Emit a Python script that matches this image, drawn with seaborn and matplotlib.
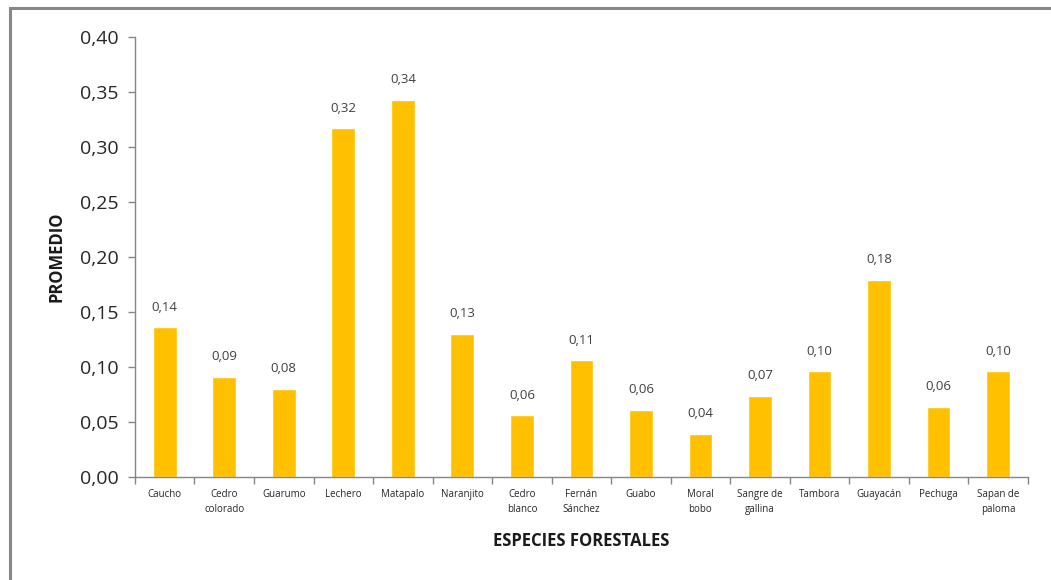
import matplotlib
matplotlib.use("Agg")
import matplotlib.pyplot as plt
from matplotlib.patches import Rectangle
from matplotlib.ticker import FixedLocator, FuncFormatter
import seaborn as sns
import pandas as pd

especies = ["Caucho", "Cedro colorado", "Guarumo", "Lechero", "Matapalo",
            "Naranjito", "Cedro blanco", "Fernán Sánchez", "Guabo", "Moral bobo",
            "Sangre de gallina", "Tambora", "Guayacán", "Pechuga", "Sapan de paloma"]
etiquetas = ["Caucho", "Cedro\ncolorado", "Guarumo", "Lechero", "Matapalo",
             "Naranjito", "Cedro\nblanco", "Fernán\nSánchez", "Guabo", "Moral\nbobo",
             "Sangre de\ngallina", "Tambora", "Guayacán", "Pechuga", "Sapan de\npaloma"]
promedio = [0.136, 0.091, 0.080, 0.317, 0.343, 0.130, 0.056, 0.106, 0.061,
            0.039, 0.074, 0.096, 0.179, 0.064, 0.096]
yticks = [0.00, 0.05, 0.10, 0.15, 0.20, 0.25, 0.30, 0.35, 0.40]

df = pd.DataFrame({"especie": especies, "promedio": promedio})

sns.set_style("white")
plt.rcParams["font.family"] = ["Open Sans", "DejaVu Sans"]

fig = plt.figure(figsize=(10.51, 5.80), dpi=100)
ax = fig.add_axes([0.1284, 0.1776, 0.9780 - 0.1284, 0.936 - 0.1776])

sns.barplot(data=df, x="especie", y="promedio", color="#FFC000",
            saturation=1, width=0.4, ax=ax)
ax.set_xlim(-0.5, len(especies) - 0.5)
ax.set_ylim(0, 0.40)

# value labels with decimal comma
ax.bar_label(ax.containers[0],
             labels=[f"{v:.2f}".replace(".", ",") for v in promedio],
             padding=10, fontsize=9.5, color="#404040")

gray = "#868686"
for side in ("top", "right"):
    ax.spines[side].set_visible(False)
for side in ("left", "bottom"):
    ax.spines[side].set_color(gray)
    ax.spines[side].set_linewidth(1.0)

ax.set_yticks(yticks)
ax.yaxis.set_major_formatter(FuncFormatter(lambda v, p: f"{v:.2f}".replace(".", ",")))
ax.tick_params(axis="y", direction="out", length=5, width=1, color=gray,
               labelsize=14, labelcolor="#262626", pad=7, left=True)

# category labels at bar centres, tick marks at category boundaries
ax.set_xticks(range(len(especies)))
ax.set_xticklabels(etiquetas, fontsize=7, color="#262626", linespacing=1.5)
ax.tick_params(axis="x", which="major", length=0, pad=9)
ax.xaxis.set_minor_locator(FixedLocator([i - 0.5 for i in range(len(especies) + 1)]))
ax.tick_params(axis="x", which="minor", direction="out", length=5, width=1,
               color=gray, bottom=True)

ax.set_xlabel("ESPECIES FORESTALES", fontsize=12, fontweight="bold",
              color="#1a1a1a", labelpad=12)
ax.set_ylabel("PROMEDIO", fontsize=12, fontweight="bold", color="#1a1a1a",
              labelpad=10)

# outer chart-area frame
fig.patches.append(Rectangle((10 / 1051, -0.1), 1.2, (580 - 8) / 580 + 0.1,
                             transform=fig.transFigure, fill=False,
                             edgecolor="#878787", linewidth=2.2, zorder=0))

fig.savefig("out.png", dpi=100, facecolor="white")
